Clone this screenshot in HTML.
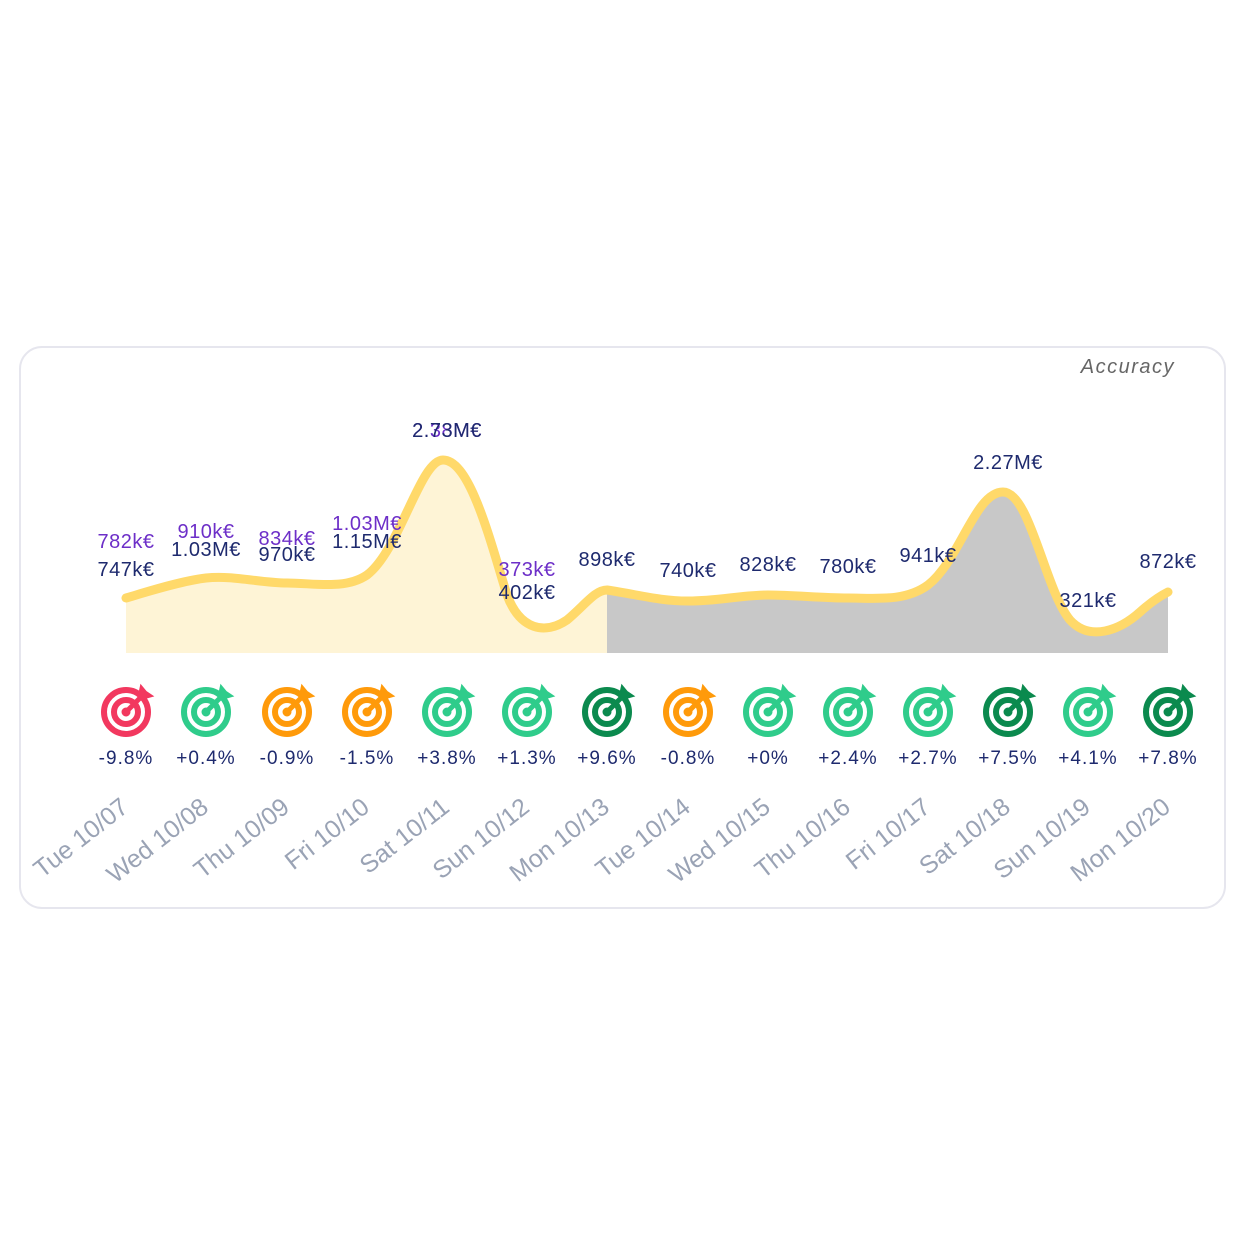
<!DOCTYPE html>
<html><head><meta charset="utf-8"><style>
html,body{margin:0;padding:0;background:#fff;width:1250px;height:1250px;overflow:hidden}
text{font-family:"Liberation Sans",sans-serif}
</style></head><body>
<svg width="1250" height="1250" xmlns="http://www.w3.org/2000/svg">
<defs>
<g id="tg">
<circle r="22" fill="none" stroke-width="6"/>
<circle r="12" fill="none" stroke-width="6"/>
<circle r="4"/>
<path d="M0 0 L16 -16" stroke-width="5"/>
<path d="M12 -12 L15 -26 L20 -20 L26 -16 L12 -12Z" stroke-width="2"/>
</g>
</defs>
<rect x="20" y="347" width="1205" height="561" rx="22" fill="#fff" stroke="#E6E6EE" stroke-width="2"/>
<text x="1175" y="373" text-anchor="end" font-size="20" font-style="italic" fill="#666" letter-spacing="1.5">Accuracy</text>
<path d="M126,598 C140,594 180,581 206,578 C233,575 260,583 287,583 C314,583 345,590 367,575 C400,550 420,460 443,460 C470,460 490,540 507,595 C520,630 545,635 567,620 C585,605 595,590 607,590 L607,653 L126,653Z" fill="#FEF4D6"/>
<path d="M607,590 C640,595 660,601 688,601 C720,601 740,595 768,595 C795,595 820,598 848,598 C875,598 905,602 928,585 C960,560 975,492 1003,492 C1030,492 1045,590 1070,620 C1090,642 1120,630 1140,612 C1150,603 1160,596 1168,592 L1168,653 L607,653Z" fill="#C8C8C8"/>
<path d="M126,598 C140,594 180,581 206,578 C233,575 260,583 287,583 C314,583 345,590 367,575 C400,550 420,460 443,460 C470,460 490,540 507,595 C520,630 545,635 567,620 C585,605 595,590 607,590 C640,595 660,601 688,601 C720,601 740,595 768,595 C795,595 820,598 848,598 C875,598 905,602 928,585 C960,560 975,492 1003,492 C1030,492 1045,590 1070,620 C1090,642 1120,630 1140,612 C1150,603 1160,596 1168,592" fill="none" stroke="#FFD96A" stroke-width="9" stroke-linecap="round"/>
<g font-size="20" text-anchor="middle" letter-spacing="0.5">
<g fill="#6D2FC8">
<text x="126" y="548">782k€</text><text x="206" y="538">910k€</text><text x="287" y="545">834k€</text><text x="367" y="530">1.03M€</text><text x="447" y="437">2.38M€</text><text x="527" y="576">373k€</text>
</g>
<g fill="#1E2A6E">
<text x="126" y="576">747k€</text><text x="206" y="556">1.03M€</text><text x="287" y="561">970k€</text><text x="367" y="548">1.15M€</text><text x="447" y="437">2.73M€</text><text x="527" y="599">402k€</text><text x="607" y="566">898k€</text><text x="688" y="577">740k€</text><text x="768" y="571">828k€</text><text x="848" y="573">780k€</text><text x="928" y="562">941k€</text><text x="1008" y="469">2.27M€</text><text x="1088" y="607">321k€</text><text x="1168" y="568">872k€</text>
</g>
</g>
<g>
<use href="#tg" transform="translate(126,712)" fill="#F2385F" stroke="#F2385F"/>
<use href="#tg" transform="translate(206,712)" fill="#2FCC8B" stroke="#2FCC8B"/>
<use href="#tg" transform="translate(287,712)" fill="#FF9A0A" stroke="#FF9A0A"/>
<use href="#tg" transform="translate(367,712)" fill="#FF9A0A" stroke="#FF9A0A"/>
<use href="#tg" transform="translate(447,712)" fill="#2FCC8B" stroke="#2FCC8B"/>
<use href="#tg" transform="translate(527,712)" fill="#2FCC8B" stroke="#2FCC8B"/>
<use href="#tg" transform="translate(607,712)" fill="#0B8A4E" stroke="#0B8A4E"/>
<use href="#tg" transform="translate(688,712)" fill="#FF9A0A" stroke="#FF9A0A"/>
<use href="#tg" transform="translate(768,712)" fill="#2FCC8B" stroke="#2FCC8B"/>
<use href="#tg" transform="translate(848,712)" fill="#2FCC8B" stroke="#2FCC8B"/>
<use href="#tg" transform="translate(928,712)" fill="#2FCC8B" stroke="#2FCC8B"/>
<use href="#tg" transform="translate(1008,712)" fill="#0B8A4E" stroke="#0B8A4E"/>
<use href="#tg" transform="translate(1088,712)" fill="#2FCC8B" stroke="#2FCC8B"/>
<use href="#tg" transform="translate(1168,712)" fill="#0B8A4E" stroke="#0B8A4E"/>
</g>
<g font-size="19" fill="#1E2A6E" text-anchor="middle" letter-spacing="1">
<text x="126" y="764">-9.8%</text><text x="206" y="764">+0.4%</text><text x="287" y="764">-0.9%</text><text x="367" y="764">-1.5%</text><text x="447" y="764">+3.8%</text><text x="527" y="764">+1.3%</text><text x="607" y="764">+9.6%</text><text x="688" y="764">-0.8%</text><text x="768" y="764">+0%</text><text x="848" y="764">+2.4%</text><text x="928" y="764">+2.7%</text><text x="1008" y="764">+7.5%</text><text x="1088" y="764">+4.1%</text><text x="1168" y="764">+7.8%</text>
</g>
<g font-size="25" fill="#9AA3B5" text-anchor="end">
<text transform="translate(130,810) rotate(-38)">Tue 10/07</text>
<text transform="translate(210,810) rotate(-38)">Wed 10/08</text>
<text transform="translate(291,810) rotate(-38)">Thu 10/09</text>
<text transform="translate(371,810) rotate(-38)">Fri 10/10</text>
<text transform="translate(451,810) rotate(-38)">Sat 10/11</text>
<text transform="translate(531,810) rotate(-38)">Sun 10/12</text>
<text transform="translate(611,810) rotate(-38)">Mon 10/13</text>
<text transform="translate(692,810) rotate(-38)">Tue 10/14</text>
<text transform="translate(772,810) rotate(-38)">Wed 10/15</text>
<text transform="translate(852,810) rotate(-38)">Thu 10/16</text>
<text transform="translate(932,810) rotate(-38)">Fri 10/17</text>
<text transform="translate(1012,810) rotate(-38)">Sat 10/18</text>
<text transform="translate(1092,810) rotate(-38)">Sun 10/19</text>
<text transform="translate(1172,810) rotate(-38)">Mon 10/20</text>
</g>
</svg>
</body></html>
